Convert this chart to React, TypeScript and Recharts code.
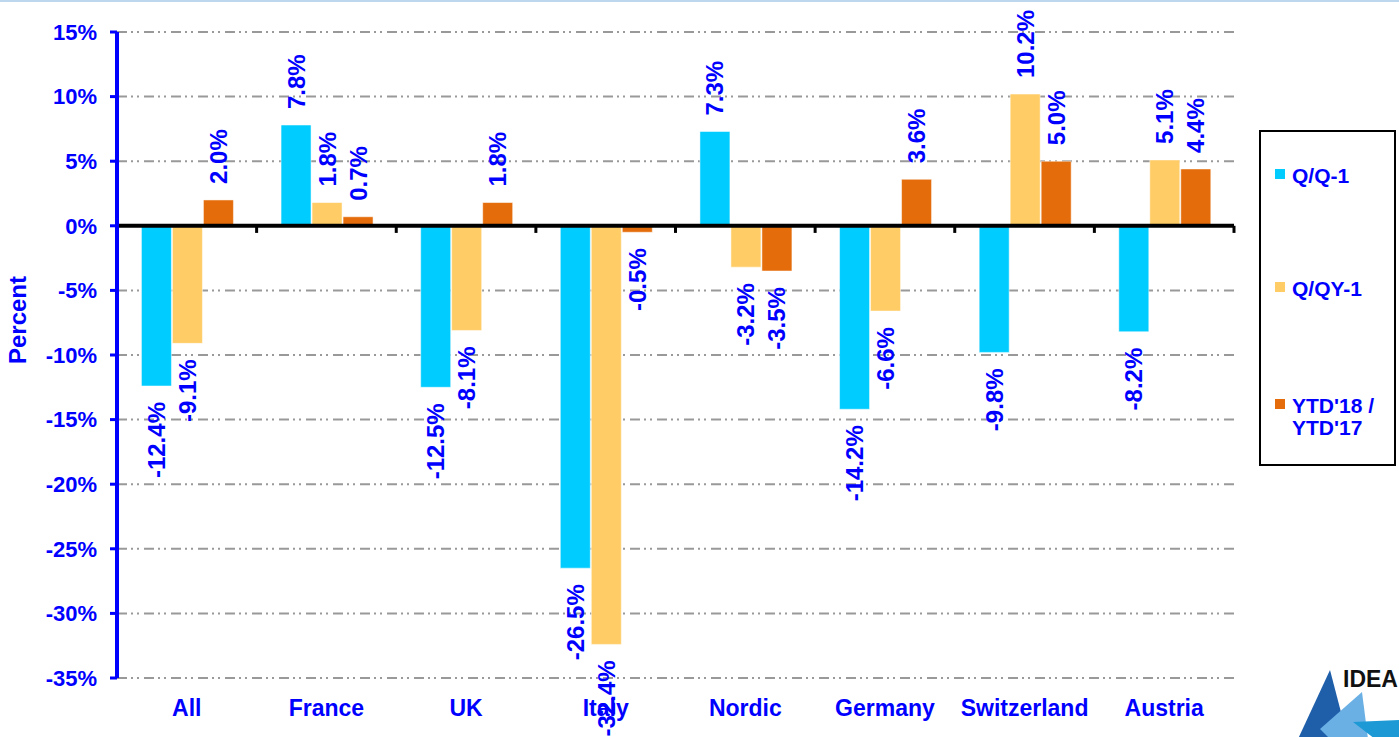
import React from 'react';
import {
  Bar,
  BarChart,
  CartesianGrid,
  LabelList,
  Legend,
  ReferenceLine,
  XAxis,
  YAxis,
} from 'recharts';

const regions = ['All', 'France', 'UK', 'Italy', 'Nordic', 'Germany', 'Switzerland', 'Austria'];
const quarterOnQuarter = [-12.4, 7.8, -12.5, -26.5, 7.3, -14.2, -9.8, -8.2];
const quarterOnYear = [-9.1, 1.8, -8.1, -32.4, -3.2, -6.6, 10.2, 5.1];
const yearToDate = [2.0, 0.7, 1.8, -0.5, -3.5, 3.6, 5.0, 4.4];
const percentTicks = [-35, -30, -25, -20, -15, -10, -5, 0, 5, 10, 15];

const series = [
  { key: 'qq', name: 'Q/Q-1', color: '#00CCFF' },
  { key: 'qy', name: 'Q/QY-1', color: '#FFCC66' },
  { key: 'ytd', name: "YTD'18 / YTD'17", color: '#E46C0A' },
];

const data = regions.map((region, i) => ({
  region,
  qq: quarterOnQuarter[i],
  qy: quarterOnYear[i],
  ytd: yearToDate[i],
}));

// tick marks on the zero line sit between the categories
const categoryEdges = [
  ...regions.map((r) => ({ region: r, position: 'start' as const })),
  { region: regions[regions.length - 1], position: 'end' as const },
];

const BLUE = '#0000FF';
const FONT = '"Liberation Sans", Arial, sans-serif';

function formatPercent(v: number): string {
  return `${v}%`;
}

function ValueLabel(props: any) {
  const { x, y, width, height, value } = props;
  if (value == null) return null;
  const top = Math.min(y, y + height);
  const bottom = Math.max(y, y + height);
  const cx = x + width / 2;
  const positive = value >= 0;
  const ay = positive ? top - 16 : bottom + 16;
  return (
    <text
      x={cx}
      y={ay}
      transform={`rotate(-90 ${cx} ${ay})`}
      textAnchor={positive ? 'start' : 'end'}
      dominantBaseline="central"
      fill={BLUE}
      fontFamily={FONT}
      fontWeight="bold"
      fontSize={24}
    >
      {`${Number(value).toFixed(1)}%`}
    </text>
  );
}

function LegendBox() {
  const rows = [
    { s: series[0], top: 33, lines: ['Q/Q-1'] },
    { s: series[1], top: 146, lines: ['Q/QY-1'] },
    { s: series[2], top: 263, lines: ["YTD'18 /", "YTD'17"] },
  ];
  return (
    <div
      style={{
        position: 'relative',
        width: 133,
        height: 332,
        border: '2px solid #000',
        fontFamily: FONT,
        fontWeight: 'bold',
        fontSize: 21,
        color: BLUE,
        textAlign: 'left',
      }}
    >
      {rows.map((r) => (
        <div key={r.s.key} style={{ position: 'absolute', left: 14, top: r.top, display: 'flex' }}>
          <div style={{ width: 10, height: 10, background: r.s.color, marginTop: 4, marginRight: 7 }} />
          <div style={{ lineHeight: '22px' }}>
            {r.lines.map((l) => (
              <div key={l}>{l}</div>
            ))}
          </div>
        </div>
      ))}
    </div>
  );
}

function PercentLabel(props: any) {
  const vb = props.viewBox;
  const cx = 17;
  const cy = vb.y + vb.height / 2 - 35;
  return (
    <text
      x={cx}
      y={cy}
      transform={`rotate(-90 ${cx} ${cy})`}
      textAnchor="middle"
      dominantBaseline="central"
      fill={BLUE}
      fontFamily={FONT}
      fontWeight="bold"
      fontSize={24}
    >
      Percent
    </text>
  );
}

function Logo() {
  return (
    <svg width={119} height={82} style={{ position: 'absolute', left: 1280, top: 655 }}>
      <polygon points="50,13 18,82 68,82" fill="#1F5FAA" />
      <polygon points="40,72 82,35 88,82 50,82" fill="#6AB0E4" />
      <polygon points="73,65 119,63 119,82 95,82" fill="#1D9AD6" />
      <text x={63} y={30} fontFamily={FONT} fontWeight="bold" fontSize={23} fill="#111">
        IDEA
      </text>
    </svg>
  );
}

export default function App() {
  return (
    <div
      style={{
        position: 'fixed',
        left: 0,
        top: 0,
        width: 1399,
        height: 737,
        background: '#fff',
        borderTop: '2px solid #BDD7EE',
        boxSizing: 'border-box',
        overflow: 'hidden',
      }}
    >
      <BarChart
        width={1399}
        height={735}
        data={data}
        margin={{ top: 30, right: 165, bottom: 19, left: 17 }}
        barCategoryGap="17.5%"
        barGap={1}
      >
        <CartesianGrid
          horizontal
          vertical={false}
          stroke="#999"
          strokeWidth={2}
          strokeDasharray="10 4 2 4 2 5"
        />
        <XAxis
          dataKey="region"
          axisLine={false}
          tickLine={false}
          tickMargin={16}
          height={40}
          interval={0}
          tick={{ fill: BLUE, fontSize: 23, fontWeight: 'bold', fontFamily: FONT }}
        />
        <YAxis
          domain={[-35, 15]}
          ticks={percentTicks}
          tickFormatter={formatPercent}
          width={100}
          interval={0}
          tickSize={7}
          tickMargin={13}
          axisLine={{ stroke: BLUE, strokeWidth: 4 }}
          tickLine={{ stroke: BLUE, strokeWidth: 3 }}
          tick={{ fill: BLUE, fontSize: 22, fontWeight: 'bold', fontFamily: FONT }}
          label={<PercentLabel />}
        />
        <Legend
          layout="horizontal"
          align="center"
          verticalAlign="middle"
          wrapperStyle={{ position: 'absolute', left: 1259, top: 128, width: 137, height: 336 }}
          content={() => <LegendBox />}
        />
        {series.map((s) => (
          <Bar
            key={s.key}
            dataKey={s.key}
            name={s.name}
            fill={s.color}
            stroke="#ffffff"
            strokeOpacity={0.5}
            strokeWidth={1}
            isAnimationActive={false}
          >
            <LabelList dataKey={s.key} content={<ValueLabel />} />
          </Bar>
        ))}
        <ReferenceLine y={0} stroke="#000" strokeWidth={4} />
        {categoryEdges.map((e) => (
          <ReferenceLine
            key={e.region + e.position}
            position={e.position}
            ifOverflow="visible"
            segment={[
              { x: e.region, y: 0 },
              { x: e.region, y: -0.55 },
            ]}
            stroke="#000"
            strokeWidth={3}
          />
        ))}
      </BarChart>
      <Logo />
    </div>
  );
}
